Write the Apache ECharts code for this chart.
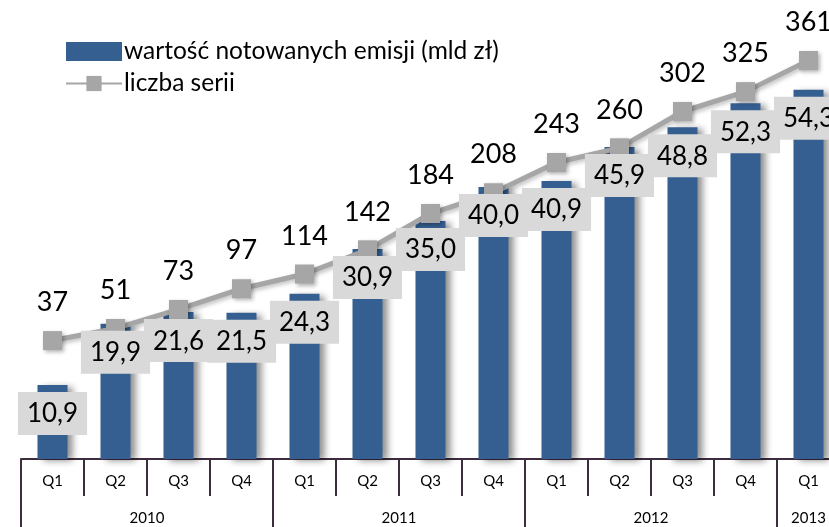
<!DOCTYPE html>
<html>
<head>
<meta charset="utf-8">
<script src="https://cdn.jsdelivr.net/npm/echarts@6/dist/echarts.min.js"></script>
<style>
  html, body { margin: 0; padding: 0; background: #fff; }
  #chart { width: 829px; height: 527px; }
</style>
</head>
<body>
<div id="chart"></div>
<script>
// dane z wykresu
var quarters = ['Q1', 'Q2', 'Q3', 'Q4', 'Q1', 'Q2', 'Q3', 'Q4', 'Q1', 'Q2', 'Q3', 'Q4', 'Q1'];
var years = ['2010', '2010', '2010', '2010', '2011', '2011', '2011', '2011', '2012', '2012', '2012', '2012', '2013'];
var emisje = [10.9, 19.9, 21.6, 21.5, 24.3, 30.9, 35.0, 40.0, 40.9, 45.9, 48.8, 52.3, 54.3];
var serie = [37, 51, 73, 97, 114, 142, 184, 208, 243, 260, 302, 325, 361];

var FONT = 'Lato, "Liberation Sans", sans-serif';
var AXIS = '#3d2c3d';

// granice i srodki grup lat (liczone z kategorii)
var yearStarts = [], yearMids = [], yearNames = [];
(function () {
  var start = 0;
  for (var i = 1; i <= years.length; i++) {
    if (i === years.length || years[i] !== years[start]) {
      yearStarts.push(start);
      yearMids.push((start + i) / 2);
      yearNames.push(years[start]);
      start = i;
    }
  }
})();

function fmt(v) {
  return v.toFixed(1).replace('.', ',');
}

var myChart = echarts.init(document.getElementById('chart'));
var option = {
  animation: false,
  textStyle: { fontFamily: FONT },
  legend: {
    orient: 'vertical',
    left: 60,
    top: 34,
    itemGap: 7,
    itemWidth: 56,
    itemHeight: 19,
    textStyle: { fontSize: 24.5, color: '#000', fontFamily: FONT, padding: [0, 0, 0, -3] },
    data: [
      { name: 'wartość notowanych emisji (mld zł)', icon: 'rect', itemStyle: { shadowBlur: 0, shadowOffsetX: 0, shadowOffsetY: 0 } },
      { name: 'liczba serii' }
    ]
  },
  grid: { left: 21, top: 51, width: 819, height: 408, outerBoundsMode: 'none', containLabel: false },
  xAxis: [
    {
      type: 'category',
      data: quarters,
      axisLine: { onZero: false, lineStyle: { color: AXIS, width: 2 } },
      axisTick: { show: true, interval: 0, length: 37, lineStyle: { color: AXIS, width: 2 } },
      axisLabel: { interval: 0, margin: 15, fontSize: 15, color: '#000', fontFamily: FONT }
    },
    {
      type: 'value',
      position: 'bottom',
      min: 0,
      max: quarters.length,
      axisLine: { show: false, onZero: false },
      splitLine: { show: false },
      axisTick: { show: true, inside: false, customValues: yearStarts, length: 68, lineStyle: { color: AXIS, width: 2 } },
      axisLabel: {
        customValues: yearMids,
        margin: 52,
        fontSize: 15,
        color: '#000',
        fontFamily: FONT,
        formatter: function (v) {
          var i = yearMids.indexOf(v);
          return i >= 0 ? yearNames[i] : '';
        }
      }
    }
  ],
  yAxis: [
    { type: 'value', min: 0, max: 60, show: false, splitLine: { show: false } },
    { type: 'value', min: -100, max: 372, show: false, splitLine: { show: false } }
  ],
  series: [
    {
      name: 'wartość notowanych emisji (mld zł)',
      type: 'bar',
      data: emisje,
      barWidth: 30,
      z: 1,
      itemStyle: {
        color: '#355f91',
        shadowColor: 'rgba(0,0,0,0.45)',
        shadowBlur: 7,
        shadowOffsetX: 5,
        shadowOffsetY: 2
      }
    },
    {
      name: 'liczba serii',
      type: 'line',
      yAxisIndex: 1,
      data: serie,
      z: 3,
      symbol: 'rect',
      symbolSize: 19,
      color: '#a6a6a6',
      lineStyle: { width: 5, color: '#a6a6a6', shadowColor: 'rgba(0,0,0,0.25)', shadowBlur: 4, shadowOffsetX: 2, shadowOffsetY: 2 },
      itemStyle: { color: '#a6a6a6', shadowColor: 'rgba(0,0,0,0.3)', shadowBlur: 4, shadowOffsetX: 2, shadowOffsetY: 2 },
      label: {
        show: true,
        position: 'top',
        distance: 15,
        fontSize: 27,
        color: '#000',
        fontFamily: FONT
      }
    },
    {
      // etykiety wartosci slupkow nad linia
      name: 'etykiety',
      type: 'scatter',
      data: emisje,
      z: 5,
      symbolSize: 0,
      silent: true,
      itemStyle: { opacity: 1 },
      label: {
        show: true,
        position: 'bottom',
        distance: 7,
        fontSize: 26,
        color: '#000',
        fontFamily: FONT,
        backgroundColor: '#d9d9d9',
        padding: [9, 9, 8, 9],
        formatter: function (p) { return fmt(p.value); }
      }
    }
  ]
};
myChart.setOption(option);
</script>
</body>
</html>
